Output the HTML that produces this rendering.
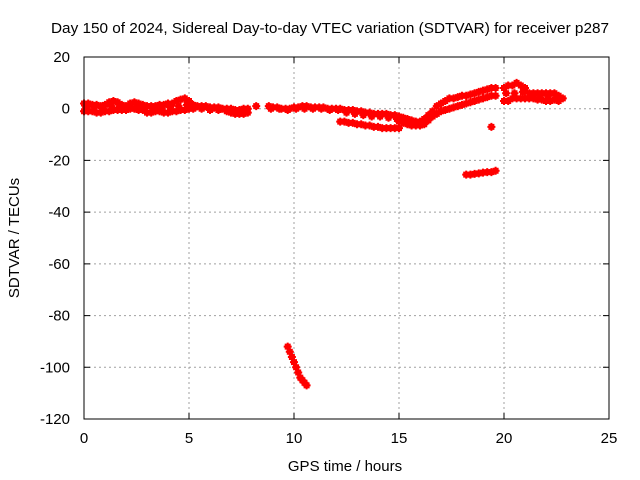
<!DOCTYPE html>
<html><head><meta charset="utf-8"><style>
html,body{margin:0;padding:0;background:#fff;}
svg{display:block;font-family:"Liberation Sans",sans-serif;}
</style></head><body>
<svg id="chart" width="640" height="480">
<text x="330" y="33" font-size="15" text-anchor="middle" textLength="558" lengthAdjust="spacingAndGlyphs">Day 150 of 2024, Sidereal Day-to-day VTEC variation (SDTVAR) for receiver p287</text>
<text x="345" y="471" font-size="15" text-anchor="middle">GPS time / hours</text>
<text transform="translate(19,238) rotate(-90)" font-size="15" text-anchor="middle">SDTVAR / TECUs</text>
<g id="grid"></g>
<g id="ticks"></g>
<g id="marks"></g>
<rect x="84" y="57" width="525" height="362" fill="none" stroke="#000" stroke-width="1"/>
</svg>
<script>
const xTicks=[0,5,10,15,20,25];
const yTicks=[20,0,-20,-40,-60,-80,-100,-120];
const pointTimes=[
0,0.2,0.4,0.6,0.8,1.0,1.2,1.4,1.6,1.8,2.0,2.2,2.4,2.6,2.8,3.0,3.2,3.4,3.6,3.8,4.0,4.2,4.4,4.6,4.8,5.0,5.2,5.4,5.6,5.8,6.0,6.2,6.4,6.6,6.8,7.0,7.2,7.4,7.6,7.8,8.2,8.8,9.0,9.2,9.4,9.6,9.8,10.0,10.2,10.4,10.6,10.8,11.0,11.2,11.4,11.6,11.8,12.0,12.2,
0,0.2,0.4,0.6,0.8,1.0,1.2,1.4,1.6,1.8,2.0,2.2,2.4,2.6,2.8,3.0,3.2,3.4,3.6,3.8,4.0,4.2,4.4,4.6,4.8,5.0,5.2,5.6,6.0,6.4,6.8,7.0,7.2,7.4,7.6,7.8,
0.1,0.5,0.9,1.3,1.7,2.1,2.5,2.9,3.3,3.7,4.1,4.5,4.9,5.3,5.7,6.1,6.5,6.9,7.3,7.7,8.9,9.3,9.7,10.1,10.5,10.9,11.3,11.7,12.1,
12.4,12.6,12.8,13.0,13.2,13.4,13.6,13.8,14.0,14.2,14.4,14.6,14.8,15.0,15.2,15.4,15.6,15.8,16.0,16.2,16.4,16.6,16.8,17.0,17.2,17.4,17.6,17.8,18.0,18.2,18.4,18.6,18.8,19.0,19.2,19.4,19.6,
12.5,12.9,13.3,13.7,14.1,14.5,14.9,
15.0,15.2,15.4,15.6,15.8,16.0,16.2,16.4,16.6,16.8,17.0,17.2,17.4,17.6,17.8,18.0,18.2,18.4,18.6,18.8,19.0,19.2,19.4,19.6,
20.0,20.2,20.4,20.6,20.8,21.0,21.2,21.4,21.6,21.8,22.0,22.2,22.4,22.6,22.8,
20.0,20.2,20.4,20.6,20.8,21.0,21.2,21.4,21.6,21.8,22.0,22.2,22.4,22.6,
20.1,20.5,20.9,21.3,21.7,22.1,22.5,
12.2,12.4,12.6,12.8,13.0,13.2,13.4,13.6,13.8,14.0,14.2,14.4,14.6,14.8,15.0,
18.2,18.4,18.6,18.8,19.0,19.2,19.4,19.6,19.4,
9.7,9.8,9.9,10.0,10.1,10.2,10.3,10.4,10.5,10.6];
const pointValues=[
2,2,1.5,1.5,1,1.5,2.5,3,2.5,1.5,1,2,2.5,2,1.5,1,1,1,1.5,1.5,2,2,3,3.5,4,3,1.5,1,1,1,0.5,0.5,0.5,0,0,0,-0.5,-0.5,0,0,1,1,0.5,0.5,0,0,0,0.5,0.5,1,1,0.5,0.5,0.5,0.5,0,0,0,0,
-1,-1,-1,-1.5,-1.5,-1,-1,-0.5,-0.5,-0.5,-0.5,0,0,-0.5,-0.5,-1.5,-1.5,-1,-1,-1.5,-1.5,-1,-1,-0.5,-0.5,0,0,0,-0.5,-0.5,-1,-1.5,-2,-2,-2,-1.5,
0.5,0.5,0,1,1,0.5,1,0.5,-0.5,0,0.5,1,1.5,0.5,0.5,0,0,-0.5,-1,-1,0,0,-0.5,0,0,0,0,-0.5,-0.5,
-0.5,-0.5,-0.5,-1,-1,-1.5,-1.5,-2,-2,-2,-2,-2.5,-2.5,-3,-3.5,-4,-4.5,-5,-5,-4,-2.5,-1,1,2,3,4,4,4.5,5,5,5.5,6,6.5,7,7.5,8,8,
-1.5,-2,-2.5,-3,-3,-3.5,-4,
-5,-5.5,-6,-6.5,-6.5,-6.5,-6,-4.5,-3,-2,-1,-0.5,0,0.5,1,1.5,2,2.5,3,3.5,4,4.5,5,5,
8,9,9,10,9,8,6,6,6,6,6,6,6,5,4,
3,3,4,4,4,4,4,4,3.5,3.5,3,3,3.5,3,
6,6,6.5,5,5,5,4.5,
-5,-5,-5.5,-5.5,-6,-6,-6.5,-6.5,-7,-7,-7.5,-7.5,-7.5,-7.5,-7.5,
-25.5,-25.5,-25.2,-25,-24.7,-24.5,-24.5,-24,-7,
-92,-94,-96,-98,-100,-102,-104,-105,-106,-107];
const X0=84,X1=609,Y0=57,Y1=419;
function sx(t){return X0+(t-0)/(25-0)*(X1-X0);}
function sy(v){return Y0+(20-v)/(20-(-120))*(Y1-Y0);}
const NS='http://www.w3.org/2000/svg';
const grid=document.getElementById('grid'),ticks=document.getElementById('ticks'),marks=document.getElementById('marks');
function mk(tag,attrs,parent){const e=document.createElementNS(NS,tag);for(const k in attrs)e.setAttribute(k,attrs[k]);parent.appendChild(e);return e;}
xTicks.forEach(t=>{
  const x=sx(t);
  if(t>0&&t<25){const g=mk('line',{x1:x,x2:x,y1:Y0,y2:Y1,stroke:'#a0a0a0','stroke-dasharray':'2,3'},grid);
  
  }
  const tk=mk('path',{d:`M${x},${Y1}v-6M${x},${Y0}v6`,stroke:'#000'},ticks);
  
  
  const l=mk('text',{x:x,y:Y1+24,'font-size':15,'text-anchor':'middle'},ticks);l.textContent=t;
  
  
});
yTicks.forEach(v=>{
  const y=sy(v);
  if(v<20&&v>-120){const g=mk('line',{x1:X0,x2:X1,y1:y,y2:y,stroke:'#a0a0a0','stroke-dasharray':'2,3'},grid);
  
  }
  const tk=mk('path',{d:`M${X0},${y}h6M${X1},${y}h-6`,stroke:'#000'},ticks);
  
  
  const l=mk('text',{x:X0-14,y:y+5,'font-size':15,'text-anchor':'end'},ticks);l.textContent=v;
  
  
});
for(let i=0;i<pointTimes.length;i++){
  const x=sx(pointTimes[i]),y=sy(pointValues[i]);
  const p=mk('path',{d:`M${x-4},${y}h8M${x},${y-4}v8M${x-3},${y-2}h6M${x-3},${y+2}h6`,stroke:'#ff0000','stroke-width':2},marks);
  
  
}
</script>
</body></html>
